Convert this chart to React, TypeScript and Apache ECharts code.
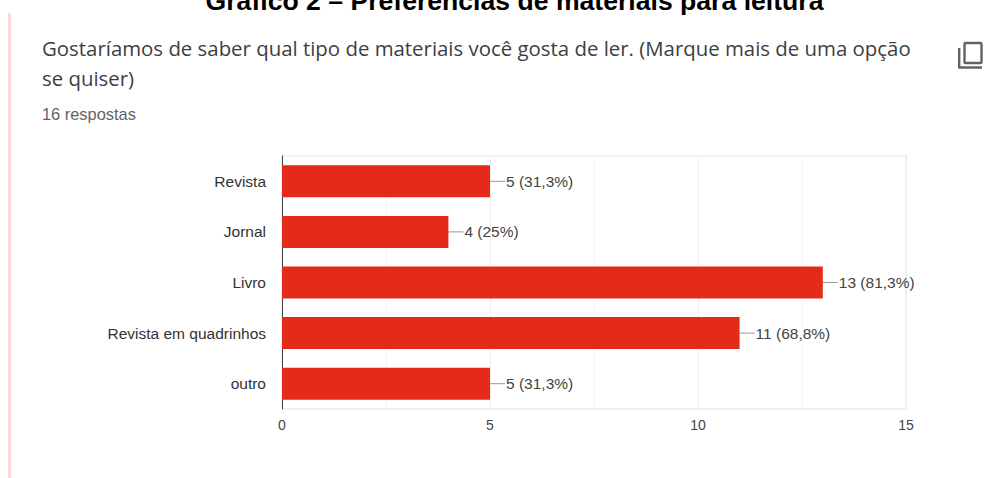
import React, { useEffect, useRef } from "react";
import * as echarts from "echarts";

const categories = ["Revista", "Jornal", "Livro", "Revista em quadrinhos", "outro"];
const counts = [5, 4, 13, 11, 5];
const percentLabels = ["31,3%", "25%", "81,3%", "68,8%", "31,3%"];
const heading = "Gráfico 2 – Preferências de materiais para leitura";
const questionLines = [
  "Gostaríamos de saber qual tipo de materiais você gosta de ler. (Marque mais de uma opção",
  "se quiser)",
];
const responseCount = "16 respostas";

const SANS = "'Liberation Sans', Arial, sans-serif";
const UI = "'Open Sans', sans-serif";
const LEADER = 15;

export default function App() {
  const ref = useRef<HTMLDivElement>(null);

  useEffect(() => {
    document.body.style.margin = "0";
    const chart = echarts.init(ref.current!, null, { renderer: "svg" });
    chart.setOption({
      animation: false,
      backgroundColor: "#ffffff",
      grid: {
        left: 282,
        right: 100,
        top: 156,
        bottom: 69,
        show: true,
        borderColor: "#f1f1f1",
        borderWidth: 2,
      },
      xAxis: {
        type: "value",
        min: 0,
        max: 15,
        interval: 5,
        axisLine: { show: false },
        axisTick: { show: false },
        axisLabel: { color: "#444444", fontFamily: SANS, fontSize: 14, margin: 9 },
        splitLine: { show: true, lineStyle: { color: "#eeeeee", width: 1 } },
        minorTick: { show: false, splitNumber: 2 },
        minorSplitLine: { show: true, lineStyle: { color: "#f6f6f6", width: 1 } },
      },
      yAxis: {
        type: "category",
        inverse: true,
        data: categories,
        axisLine: { show: true, onZero: false, lineStyle: { color: "#444444", width: 1 } },
        axisTick: { show: false },
        axisLabel: { color: "#333333", fontFamily: SANS, fontSize: 15.5, margin: 16 },
        splitLine: { show: false },
      },
      series: [
        {
          type: "bar",
          data: counts,
          barWidth: 32,
          itemStyle: { color: "#e42a19" },
          label: {
            show: true,
            position: "right",
            distance: LEADER + 1,
            color: "#444444",
            fontFamily: SANS,
            fontSize: 15.5,
            formatter: (p: any) => `${p.value} (${percentLabels[p.dataIndex]})`,
          },
          z: 3,
        },
        {
          // Thin leader between each bar end and its label.
          type: "custom",
          data: counts.map((v, i) => [v, i]),
          encode: { x: 0, y: 1 },
          silent: true,
          z: 2,
          renderItem: (_: any, api: any) => {
            const [x, y] = api.coord([api.value(0), api.value(1)]);
            return {
              type: "line",
              shape: { x1: x, y1: y, x2: x + LEADER, y2: y },
              style: { stroke: "#9a9a9a", lineWidth: 1 },
            };
          },
        },
      ],
      graphic: [
        {
          type: "text",
          x: 514.5,
          y: -13,
          style: {
            text: heading,
            fill: "#000000",
            font: `bold 26.6px ${SANS}`,
            textAlign: "center",
          },
        },
        {
          type: "rect",
          shape: { x: 8, y: 13, width: 3, height: 465 },
          style: { fill: "#fadcda" },
        },
        {
          type: "text",
          x: 42,
          y: 38,
          style: { text: questionLines[0], fill: "#3c4043", font: `20.4px ${UI}` },
        },
        {
          type: "text",
          x: 42,
          y: 68,
          style: { text: questionLines[1], fill: "#3c4043", font: `20.4px ${UI}` },
        },
        {
          type: "text",
          x: 42,
          y: 106,
          style: { text: responseCount, fill: "#5f6368", font: `16.4px ${SANS}` },
        },
        {
          type: "rect",
          shape: { x: 964.5, y: 43, width: 17, height: 20, r: 1 },
          style: { fill: "none", stroke: "#5f6368", lineWidth: 2.4 },
        },
        {
          type: "polyline",
          shape: { points: [[959.2, 48], [959.2, 67.5], [982, 67.5]] },
          style: { fill: "none", stroke: "#5f6368", lineWidth: 2.4 },
        },
      ],
    });
    return () => chart.dispose();
  }, []);

  return <div ref={ref} style={{ width: 1006, height: 478 }} />;
}
